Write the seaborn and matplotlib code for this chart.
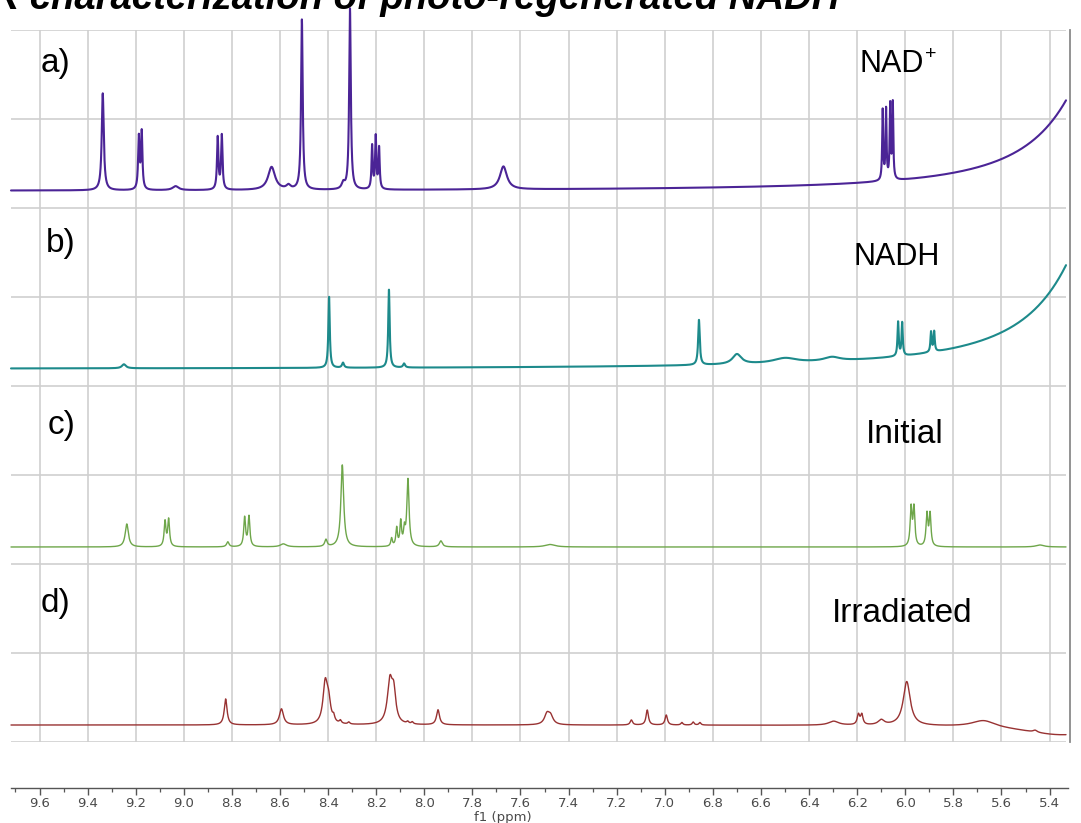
import numpy as np
import matplotlib
matplotlib.use("Agg")
import matplotlib.pyplot as plt
import seaborn as sns
from matplotlib.ticker import FixedLocator, MultipleLocator, FormatStrFormatter

# ---- 1H NMR peak lists: shift (ppm), intensity (a.u.), line width FWHM (ppm) ----
nad_shift = [9.337, 9.187, 9.175, 9.034, 8.859, 8.842, 8.635, 8.565, 8.509, 8.337,
             8.309, 8.217, 8.202, 8.188, 7.671, 6.094, 6.080, 6.063, 6.052, 5.05]
nad_height = [97, 52, 57, 4, 52, 54, 23, 4, 170, 6,
              181, 43, 52, 41, 23, 70, 70, 74, 76, 262]
nad_fwhm = [0.010, 0.007, 0.007, 0.03, 0.007, 0.007, 0.035, 0.02, 0.008, 0.015,
            0.008, 0.006, 0.006, 0.006, 0.035, 0.005, 0.005, 0.005, 0.005, 0.41]

nadh_shift = [9.249, 8.396, 8.338, 8.147, 8.084, 6.858, 6.700, 6.50, 6.305,
              6.030, 6.013, 5.893, 5.880, 5.05]
nadh_height = [4, 71, 5, 78, 4, 45, 10, 5, 4, 34, 33, 20, 20, 300]
nadh_fwhm = [0.02, 0.007, 0.01, 0.007, 0.01, 0.008, 0.045, 0.12, 0.08,
             0.006, 0.006, 0.006, 0.006, 0.41]

init_shift = [9.237, 9.078, 9.063, 8.817, 8.747, 8.729, 8.586, 8.409, 8.341, 8.136,
              8.115, 8.098, 8.083, 8.068, 7.931, 7.477, 5.976, 5.964, 5.910, 5.897, 5.44]
init_height = [23, 25, 27, 5, 29, 30, 3, 7, 82, 8,
               18, 24, 15, 67, 6, 2.5, 38, 38, 32, 32, 2]
init_fwhm = [0.016, 0.009, 0.009, 0.012, 0.009, 0.009, 0.03, 0.012, 0.014, 0.008,
             0.008, 0.008, 0.008, 0.011, 0.015, 0.05, 0.009, 0.009, 0.009, 0.009, 0.04]

irr_shift = [8.826, 8.594, 8.412, 8.398, 8.377, 8.349, 8.314, 8.143, 8.127, 8.069,
             8.050, 7.943, 7.490, 7.475, 7.139, 7.073, 6.994, 6.929, 6.882, 6.854,
             6.298, 6.195, 6.181, 6.100, 5.994, 5.674, 5.460, 5.35]
irr_height = [26, 16, 40, 20, 5, 3, 2, 42, 28, 2,
              2, 15, 10, 8, 5, 15, 10, 2.5, 3, 2.5,
              4, 10, 10, 5, 44, 7, 2, -10]
irr_fwhm = [0.014, 0.02, 0.022, 0.02, 0.01, 0.01, 0.01, 0.025, 0.02, 0.01,
            0.01, 0.015, 0.025, 0.025, 0.012, 0.012, 0.012, 0.01, 0.01, 0.01,
            0.05, 0.012, 0.012, 0.03, 0.035, 0.12, 0.02, 0.4]

trace_labels = ["a)", "b)", "c)", "d)"]
sample_names = ["NAD", "NADH", "Initial", "Irradiated"]
axis_ticks = np.round(np.arange(9.6, 5.39, -0.2), 1)


def lorentzian_sum(ppm, shifts, heights, fwhms):
    y = np.zeros_like(ppm)
    for c, h, w in zip(shifts, heights, fwhms):
        g = w / 2.0
        y += h * g ** 2 / ((ppm - c) ** 2 + g ** 2)
    return y


# ---- layout (pixel geometry of the 1081 x 823 canvas) ----
W, H = 1081, 823
X0_PX, PX_PER_PPM = 39.5, 240.5          # 9.6 ppm gridline and scale


def px_to_ppm(px):
    return 9.6 - (px - X0_PX) / PX_PER_PPM


def box(l, t, r, b):
    return [l / W, 1 - b / H, (r - l) / W, (b - t) / H]


sns.set_theme(style="white")
plt.rcParams["font.family"] = ["Liberation Sans", "DejaVu Sans"]
plt.rcParams["text.color"] = "black"

fig = plt.figure(figsize=(W / 100, H / 100), dpi=100)
ax = fig.add_axes(box(11, 30, 1066, 742))
axb = fig.add_axes(box(11, 787, 1068, 788))

xl = (px_to_ppm(11), px_to_ppm(1066))
ppm = np.linspace(xl[0], xl[1], 24000)

traces = [
    (nad_shift, nad_height, nad_fwhm, 551, "#4b2496", 1.5),
    (nadh_shift, nadh_height, nadh_fwhm, 373, "#1d8a8b", 1.5),
    (init_shift, init_height, init_fwhm, 195, "#6ea64a", 1.0),
    (irr_shift, irr_height, irr_fwhm, 17, "#983232", 1.0),
]
for shifts, heights, fwhms, offset, color, lw in traces:
    y = offset + lorentzian_sum(ppm, shifts, heights, fwhms)
    sns.lineplot(x=ppm, y=y, ax=ax, color=color, lw=lw, estimator=None,
                 sort=False, errorbar=None, clip_on=False, zorder=3)

# spectra panel: grid, right-hand intensity axis
ax.set_xlim(*xl)
ax.set_ylim(0, 712)
ax.set_xticks(axis_ticks)
ax.set_yticks(np.arange(0, 713, 89))
ax.yaxis.set_minor_locator(FixedLocator([89, 267, 445, 623]))
ax.tick_params(axis="both", which="major", length=0, labelbottom=False,
               labelleft=False, labelright=False)
ax.tick_params(axis="y", which="minor", left=False, right=True, length=6,
               width=1.2, color="#7a7a7a", direction="out", labelright=False)
ax.grid(True, which="major", color="#cfcfcf", lw=1.2)
ax.set_axisbelow(True)
ax.set_xlabel("")
ax.set_ylabel("")
for side in ["top", "left", "bottom"]:
    ax.spines[side].set_visible(False)
ax.spines["right"].set_color("#8a8a8a")
ax.spines["right"].set_linewidth(1.3)
ax.spines["right"].set_position(("outward", 3))
ax.patch.set_alpha(0)

# chemical-shift axis
axb.set_xlim(px_to_ppm(11), px_to_ppm(1068))
axb.set_xticks(axis_ticks)
axb.xaxis.set_minor_locator(MultipleLocator(0.1))
axb.xaxis.set_major_formatter(FormatStrFormatter("%.1f"))
axb.set_yticks([])
for side in ["top", "left", "right"]:
    axb.spines[side].set_visible(False)
axb.spines["bottom"].set_color("#555555")
axb.spines["bottom"].set_linewidth(1.0)
axb.tick_params(axis="x", which="major", bottom=True, length=5, width=1.0,
                color="#555555", direction="out", pad=1.5, labelsize=9.5,
                labelcolor="#4a4a4a")
axb.tick_params(axis="x", which="minor", bottom=True, length=3, width=0.9,
                color="#555555", direction="out")
for lab in axb.get_xticklabels():
    lab.set_fontfamily("DejaVu Sans")
axb.patch.set_alpha(0)
fig.text(503 / W, 1 - 817.5 / H, "f1 (ppm)", ha="center", va="center",
         fontsize=9.5, color="#4a4a4a", family="DejaVu Sans")


def ftext(x, y, s, **kw):
    fig.text(x / W, 1 - y / H, s, **kw)


# trace labels
for lab, (x, y) in zip(trace_labels, [(41, 72), (46, 252), (48, 434), (41, 612)]):
    ftext(x, y, lab, fontsize=24, va="baseline", ha="left", color="black")

ftext(860, 72, sample_names[0], fontsize=22, va="baseline", ha="left", color="black")
ftext(925, 59, "+", fontsize=14, va="baseline", ha="left", color="black")
ftext(853, 265, sample_names[1], fontsize=22, va="baseline", ha="left", color="black")
ftext(866, 443, sample_names[2], fontsize=24, va="baseline", ha="left", color="black")
ftext(832, 622, sample_names[3], fontsize=24, va="baseline", ha="left", color="black")

# heading, partly outside the canvas
ftext(-68, 9, "NMR characterization of photo-regenerated NADH", fontsize=27.5,
      fontweight="bold", fontstyle="italic", va="baseline", ha="left", color="black")

fig.savefig("out.png", dpi=100)
